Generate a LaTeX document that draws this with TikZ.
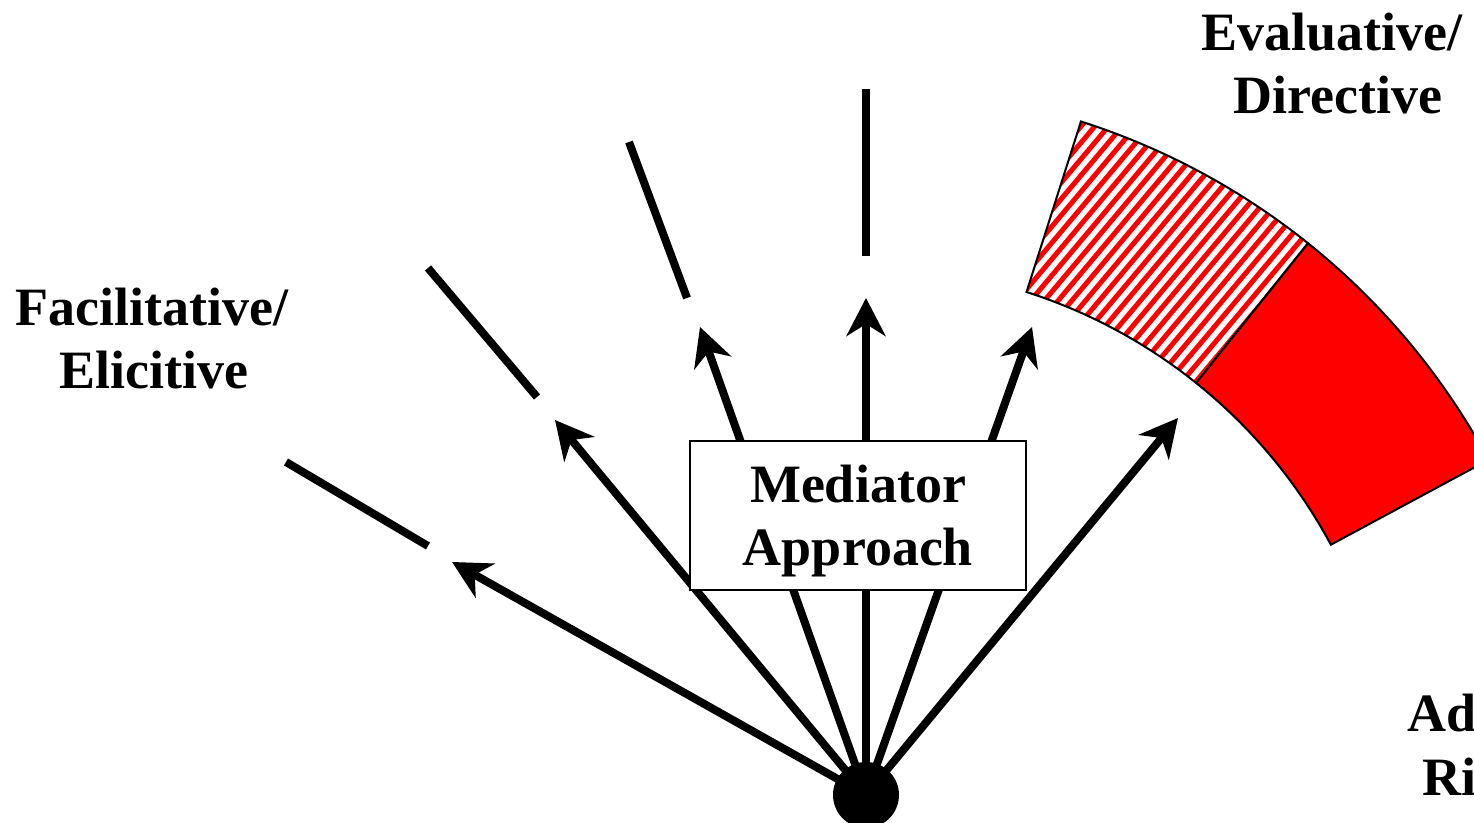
\documentclass[tikz,border=0pt]{standalone}
\usepackage{fontspec}
\setmainfont{Liberation Serif}
\usetikzlibrary{arrows.meta,calc}
\begin{document}
\begin{tikzpicture}[x=0.5pt,y=-0.5pt,
  ray/.style={line width=4pt, -{Stealth[length=19pt,width=19.5pt,inset=6pt]}},
  seg/.style={line width=4pt},
  lbl/.style={font=\bfseries\fontsize{27}{31.5}\selectfont, inner sep=0pt, anchor=base},
  lblw/.style={lbl, anchor=base west},
  band/.style={draw=black, line width=1pt, line join=miter},
  stripe/.style={draw=red, line width=2.5pt}]
\useasboundingbox (0,0) rectangle (1474,823);
\coordinate (C) at (866,795);
% arrow tips
\coordinate (t150) at (452,562);
\coordinate (t130) at (555,420);
\coordinate (t110) at (700,327);
\coordinate (t90) at (866,298);
\coordinate (t70) at (1032,327);
\coordinate (t50) at (1178,418);
% outer segments
\coordinate (s150a) at (428,546); \coordinate (s150b) at (286,462);
\coordinate (s130a) at (537,397); \coordinate (s130b) at (428,268);
\coordinate (s110a) at (687,298); \coordinate (s110b) at (629,142);
\coordinate (s90a) at (866,256);  \coordinate (s90b) at (866,89);
% hatched band
\begin{scope}
\clip ($(C)+(-72.3:528)$) -- ($(C)+(-72.3:707)$) arc[start angle=-72.3, end angle=-51.3, radius=707] -- ($(C)+(-51.3:528)$) arc[start angle=-51.3, end angle=-72.3, radius=528] -- cycle;
\foreach \k in {-32,...,32}
  \draw[stripe] ({1165+\k*10.5*0.766-400*0.643},{255+\k*10.5*0.643+400*0.766}) -- ({1165+\k*10.5*0.766+400*0.643},{255+\k*10.5*0.643-400*0.766});
\end{scope}
\draw[band] ($(C)+(-72.3:528)$) -- ($(C)+(-72.3:707)$) arc[start angle=-72.3, end angle=-51.3, radius=707] -- ($(C)+(-51.3:528)$) arc[start angle=-51.3, end angle=-72.3, radius=528] -- cycle;
% solid band
\draw[band, fill=red] ($(C)+(-51.3:528)$) -- ($(C)+(-51.3:707)$) arc[start angle=-51.3, end angle=-28.3, radius=707] -- ($(C)+(-28.3:528)$) arc[start angle=-28.3, end angle=-51.3, radius=528] -- cycle;
% rays
\foreach \t in {t150,t130,t110,t90,t70,t50}
  \draw[ray] (C) -- (\t);
\draw[seg] (s150a) -- (s150b);
\draw[seg] (s130a) -- (s130b);
\draw[seg] (s110a) -- (s110b);
\draw[seg] (s90a) -- (s90b);
% dot
\node[circle, fill=black, minimum size=33pt, inner sep=0pt] (O) at (C) {};
% box
\node[draw, line width=1pt, fill=white, minimum width=168pt, minimum height=74.5pt, inner sep=0pt] (box) at (858,515.5) {};
\node[lbl] (m1) at (858,503) {Mediator};
\node[lbl] (m2) at (858,566) {Approach};
% labels
\node[lbl] (f1) at (152,326) {Facilitative/};
\node[lbl] (f2) at (154,389) {Elicitive};
\node[lbl] (e1) at (1332,51) {Evaluative/};
\node[lbl] (e2) at (1338,114) {Directive};
\node[lblw] (a1) at (1407,732) {Ad};
\node[lblw] (a2) at (1422,795) {Ri};
\end{tikzpicture}
\end{document}
